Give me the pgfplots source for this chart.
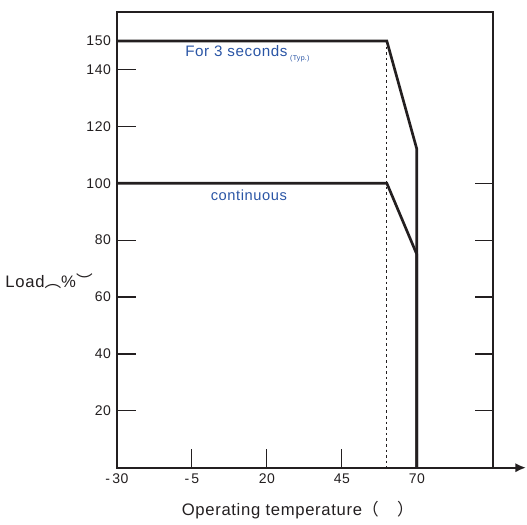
\documentclass[border=0pt]{standalone}
\usepackage{pgfplots}
\pgfplotsset{compat=1.18}
\usepackage{fontspec}
\setmainfont[LetterSpace=4]{Liberation Sans}
\newfontfamily\cjk{Noto Sans CJK SC}
\usetikzlibrary{arrows.meta}
\definecolor{txtblue}{HTML}{2A55A5}
\definecolor{ink}{HTML}{231F20}
\begin{document}
\begin{tikzpicture}
\begin{axis}[
  scale only axis,
  width=282pt, height=342pt,
  xmin=-30, xmax=95.3, ymin=0, ymax=160.2,
  clip=false,
  axis line style={ink, line width=1.5pt},
  xtick={-30,-5,20,45,70},
  xticklabels={-\,30,-\,5,20,45,70},
  ytick={20,40,60,80,100,120,140,150},
  xtick pos=bottom, ytick pos=left,
  tick align=inside,
  major tick length=14pt,
  every tick/.style={ink, line width=0.9pt},
  tick label style={font=\fontsize{10.5}{12}\selectfont, text=ink},
  /pgf/number format/assume math mode=true,
  xticklabel style={yshift=-1pt},
  yticklabel style={xshift=-1pt},
]
\addplot[ink, line width=2pt] coordinates {(-30,150) (60,150) (70,112) (70,0)};
\addplot[ink, line width=2pt] coordinates {(-30,100) (60,100) (70,75) (70,0)};
\addplot[ink, line width=1pt, dash pattern=on 2pt off 2.2pt] coordinates {(60,150) (60,0)};
\pgfplotsinvokeforeach{20,40,60,80,100}{
  \draw[ink, line width=0.9pt] (axis cs:95.3,#1) -- ([xshift=-13pt]axis cs:95.3,#1);
}
\draw[ink, line width=1.5pt, -{Latex[length=8pt,width=7pt]}] (axis cs:95.3,0) -- ([xshift=25pt]axis cs:95.3,0);
\node[anchor=west, text=txtblue, font=\fontsize{11.4}{13}\selectfont, inner sep=0pt] at (axis cs:-7.3,145.5) {For 3 seconds\,{\fontsize{5.3}{6}\selectfont\raisebox{-2.5pt}{(Typ.)}}};
\node[text=txtblue, font=\fontsize{11}{13}\selectfont, inner sep=0pt] at (axis cs:14,95.6) {continuous};
\node[anchor=base east, font=\fontsize{12.5}{14}\selectfont, text=ink, inner sep=0pt] at ([xshift=-18pt]axis cs:-30,63.5) {Load{\cjk ︵}\%{\cjk ︶}};
\node[font=\fontsize{12.5}{14}\selectfont, text=ink, inner sep=0pt] at ([yshift=-32pt]axis cs:30.3,0) {Operating temperature{\cjk （\hspace{1.1em}）}};
\path ([shift={(-87.75pt,-42.75pt)}]rel axis cs:0,0) -- ([shift={(25.5pt,9pt)}]rel axis cs:1,1);
\end{axis}
\end{tikzpicture}
\end{document}
